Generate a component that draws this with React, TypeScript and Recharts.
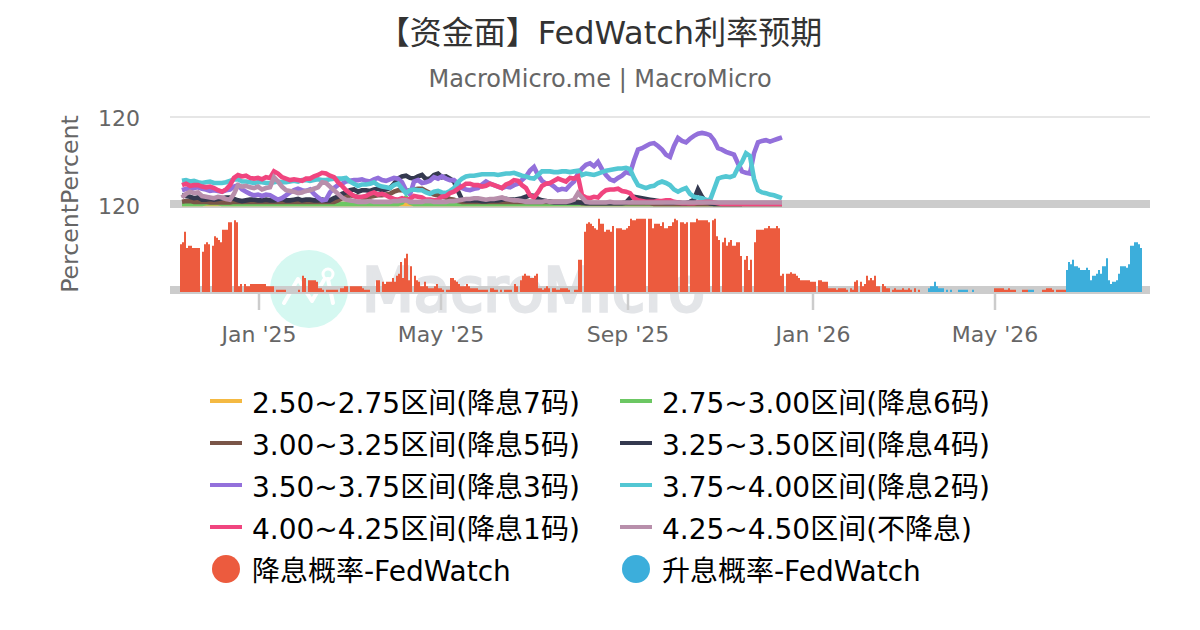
// App.tsx - FedWatch rate expectations, two stacked panels
import { LineChart, Line, BarChart, Bar, XAxis, YAxis, ReferenceLine } from 'recharts';

const FONT = '"DejaVu Sans", "Noto Sans CJK SC", sans-serif';
const TITLE = '【资金面】FedWatch利率预期';
const SUBTITLE = 'MacroMicro.me | MacroMicro';
const X_TICKS = [44.5, 135.5, 229, 321.5, 412.5];
const X_LABELS = ["Jan '25", "May '25", "Sep '25", "Jan '26", "May '26"];

// top panel, read every other slot, values in %
const LINE_START = 6;
const LINE_STEP = 2;
const s275 = new Array(151).fill(0);
const s300 = [
  0,0,0,0,0,0,1,1,1,1, 0,0,0,0,0,0,0,0,0,0, 0,0,0,0,0,0,0,0,0,0, 0,0,0,0,0,0,0,0,0,0,
  0,0,0,0,0,0,0,0,0,0, 0,0,0,0,0,2,9,2,0,0, 0,0,0,0,0,0,0,0,0,0, 0,0,0,0,0,0,0,0,0,0,
  0,0,0,0,0,0,0,0,0,0, 0,0,0,0,0,0,0,0,0,0, 0,0,0,0,0,0,0,0,0,0, 0,0,0,0,0,0,0,0,0,0,
  0,0,0,0,0,0,0,0,0,0, 0,0,0,0,0,0,0,0,0,0, 0,
];
const s325 = [
  3,4,4,3,3,3,3,2,2,2, 2,2,2,3,3,3,3,3,3,3, 3,3,3,3,3,3,3,3,3,3, 3,3,3,3,3,3,3,3,3,5,
  8,10,12,11,10,9,9,10,11,12, 12,13,14,17,19,19,18,19,20,21, 21,18,15,13,12,10,9,7,6,4, 3,3,3,3,3,3,3,3,3,3,
  3,3,3,3,3,3,3,3,3,3, 3,3,3,3,3,3,3,3,3,3, 1,1,1,1,1,1,1,1,1,1, 1,1,1,1,1,1,1,1,0,0,
  0,0,0,0,0,0,0,0,0,0, 0,0,0,0,0,0,0,0,0,0, 0,
];
const s350 = [
  12,11,10,8,9,6,6,7,6,7, 8,9,9,7,5,4,5,6,6,5, 5,6,5,5,6,7,5,5,6,7, 5,6,6,5,5,6,5,5,8,10,
  14,16,19,20,17,19,19,18,20,21, 19,20,22,28,35,38,39,36,35,38, 40,34,35,40,42,37,38,35,31,18, 6,5,5,5,5,4,4,5,5,5,
  6,7,6,6,7,8,10,12,11,7, 5,4,3,2,2,2,2,2,2,2, 2,1,1,1,1,1,1,1,1,1, 1,2,8,10,9,8,7,6,5,4,
  3,2,2,2,2,1,1,3,6,20, 10,3,1,0,0,0,0,0,0,0, 0,0,0,0,0,0,0,0,0,0, 0,
];
const s375 = [
  19,21,20,22,23,21,20,18,19,18, 17,19,20,24,26,20,17,14,12,13, 11,13,12,9,6,8,12,16,19,21, 19,18,20,14,9,5,6,16,22,26,
  28,31,32,33,33,34,32,31,34,36, 33,32,34,36,35,30,19,13,31,33, 29,30,32,37,35,38,35,33,33,28, 22,20,19,21,22,27,31,28,26,24,
  22,24,23,26,28,33,38,46,51,40, 32,28,28,24,19,21,20,26,31,42, 49,54,56,52,58,48,40,34,32,36, 39,44,42,60,75,77,80,83,84,80,
  75,68,65,80,91,87,85,90,94,97, 98,97,95,88,77,75,72,70,68,56, 45,43,42,70,85,87,88,86,88,90, 92,
];
const s400 = [
  32,33,31,32,30,29,30,31,29,29, 29,30,32,34,34,31,31,30,29,30, 30,29,29,30,31,30,30,31,32,31, 33,33,32,33,34,33,33,34,35,35,
  35,36,31,28,25,27,27,28,30,26, 24,23,22,26,28,21,15,19,20,19, 19,16,14,17,18,16,15,18,22,30, 35,38,39,39,40,41,41,41,41,40,
  41,42,42,43,41,39,38,36,35,40, 45,45,45,44,44,45,45,44,45,46, 40,42,41,40,42,44,46,47,48,49, 49,50,48,36,26,24,22,24,25,29,
  31,29,26,20,17,20,22,14,10,9, 8,6,5,20,35,37,38,37,39,50, 58,70,66,35,19,16,15,13,12,10, 8,
];
const s425 = [
  26,28,25,26,26,24,23,24,22,19, 17,20,26,36,40,38,39,36,35,36, 34,37,36,45,42,37,35,33,34,33, 32,35,35,38,40,43,42,39,37,30,
  25,19,15,11,9,10,11,14,16,13, 14,12,9,7,6,8,6,7,11,10, 9,6,6,5,6,10,11,15,17,21, 24,28,28,26,26,24,25,28,26,24,
  22,27,29,33,32,26,22,12,9,16, 25,28,29,32,35,33,31,36,35,38, 12,9,8,10,9,15,19,20,20,21, 18,17,15,8,5,4,3,3,3,4,
  4,5,5,3,2,1,1,1,1,2, 2,3,3,2,1,0,0,0,0,0, 0,0,0,0,0,0,0,0,0,0, 0,
];
const s450 = [
  9,14,17,15,16,11,10,9,8,10, 9,7,6,14,26,24,25,23,22,24, 20,22,23,37,31,24,19,18,17,15, 16,18,19,21,23,30,29,24,19,14,
  9,6,5,4,3,3,3,4,3,3, 3,3,3,4,4,5,5,3,3,3, 3,4,4,3,3,3,3,4,4,5, 6,7,7,8,8,7,6,7,7,8,
  9,7,6,5,5,4,3,3,3,3, 3,4,3,3,3,3,3,4,6,15, 9,3,2,2,2,2,2,3,2,2, 2,2,2,2,2,2,2,2,2,2,
  2,2,2,2,2,2,2,2,2,2, 2,2,2,2,2,2,2,2,2,2, 2,2,2,2,2,2,2,2,2,2, 2,
];

// bar panel, one value per slot, starting at the slot noted
const CUT_START = 5;
const cutProb = [
  65,68,82,60,63,63,60,60,60,60,0,55,65,68,65,0,63,76,74,71,68,85,85,85,95,95,0,98,95,8,11,0,
  11,8,8,11,11,11,11,11,11,11,11,8,8,8,8,0,3,3,3,3,3,0,0,0,0,0,0,3,0,22,19,0,16,16,16,16,14,5,5,3,0,
  3,3,3,3,3,3,0,5,5,8,8,0,8,8,8,8,8,8,5,3,3,3,0,0,0,16,16,0,14,11,14,14,14,19,14,22,25,41,19,46,52,16,35,0,
  22,16,14,8,8,14,8,5,5,5,8,11,5,5,3,0,3,3,19,19,16,14,11,8,8,8,11,8,5,5,5,5,3,3,3,3,3,0,
  5,5,3,3,0,3,0,3,3,3,3,0,11,8,0,16,22,25,22,22,19,19,22,25,5,5,3,5,8,5,0,
  5,5,3,3,5,5,5,5,3,0,0,3,3,44,44,0,
  82,93,95,93,90,87,85,100,93,93,82,85,85,82,90,0,87,87,87,85,85,87,90,100,98,98,100,100,100,100,100,0,
  100,100,87,93,93,93,90,95,87,87,90,90,95,100,98,0,95,95,93,95,0,95,95,95,100,98,98,98,98,98,95,0,
  98,100,76,71,0,68,74,63,68,71,63,63,68,68,49,0,44,49,30,44,0,68,85,85,85,85,87,87,90,87,87,87,90,87,22,25,0,
  25,25,27,25,25,22,19,16,16,16,16,16,14,14,14,0,16,16,14,14,14,5,5,5,5,3,5,5,5,5,3,0,5,3,14,16,0,
  14,8,11,22,16,19,16,22,8,8,0,11,8,5,5,0,3,5,3,3,3,5,3,3,5,3,0,5,0,3,
  0,0,0,0,0,0,0,0,0,0,0,0,0,0,0,0,0,0,0,0,0,0,0,0,0,0,0,0,0,0,0,0,0,0,0,0,0,
  5,5,5,5,5,3,3,5,3,3,3,0,0,0,3,3,3,0,0,0,0,0,0,0,3,3,5,5,5,3,0,3,3,3,3,3,
];
const HIKE_START = 379;
const hikeProb = [
  5,8,8,14,8,5,5,5,0,3,0,3,0,0,0,3,3,3,3,3,0,0,3,
  0,0,0,0,0,0,0,0,0,0,0,0,0,0,0,0,0,0,0,0,0,0,0,0,0,0,0,3,3,3,
  0,0,0,0,0,0,0,0,0,0,0,0,0,0,0,0,
  30,41,38,44,35,35,33,30,30,30,33,30,16,22,22,25,30,25,35,35,46,16,11,14,14,16,25,35,35,35,33,38,63,63,68,68,65,60,
];

const lineSeries = [
  { name: '2.50~2.75区间(降息7码)', color: '#F4B942', values: s275 },
  { name: '2.75~3.00区间(降息6码)', color: '#6CC763', values: s300 },
  { name: '3.00~3.25区间(降息5码)', color: '#7A5548', values: s325 },
  { name: '3.25~3.50区间(降息4码)', color: '#34394F', values: s350 },
  { name: '3.50~3.75区间(降息3码)', color: '#9370DB', values: s375 },
  { name: '3.75~4.00区间(降息2码)', color: '#53C7D3', values: s400 },
  { name: '4.00~4.25区间(降息1码)', color: '#F0457F', values: s425 },
  { name: '4.25~4.50区间(不降息)', color: '#B88FAB', values: s450 },
];
const barSeries = [
  { name: '降息概率-FedWatch', color: '#EC5B3E' },
  { name: '升息概率-FedWatch', color: '#3CAEDB' },
];

const lineData = s275.map((_, i) => {
  const row: any = { slot: LINE_START + i * LINE_STEP };
  lineSeries.forEach(s => { row[s.name] = s.values[i]; });
  return row;
});

const barData = Array.from({ length: 481 }, (_, i) => {
  const slot = i + 5;
  return {
    slot: slot + 0.5,
    cut: cutProb[slot - CUT_START] ?? 0,
    hike: hikeProb[slot - HIKE_START] ?? 0,
  };
});

const legendItems = [
  ...lineSeries.map(s => ({ ...s, round: false })),
  ...barSeries.map(s => ({ ...s, round: true })),
];

const Watermark = () => (
  <g>
    <circle cx={309} cy={289} r={39} fill="#D5F8F1" />
    <polyline points="284,303 298,279 312,301 324,280" fill="none" stroke="#fff" strokeWidth={4} strokeLinecap="round" strokeLinejoin="round" />
    <line x1={328} y1={279} x2={333} y2={303} stroke="#fff" strokeWidth={4} strokeLinecap="round" />
    <circle cx={328} cy={274} r={5} fill="none" stroke="#fff" strokeWidth={3} />
    <text x={362} y={311} fontSize={60} fontFamily={FONT} fill="#E3E5E8" stroke="#E3E5E8" strokeWidth={3}>MacroMicro</text>
  </g>
);

export default function App() {
  return (
    <div style={{ position: 'absolute', left: 0, top: 0, width: 1200, height: 630, fontFamily: FONT, background: '#fff', overflow: 'hidden' }}>
      <div style={{ position: 'absolute', top: 12, width: 1200, textAlign: 'center', fontSize: 32, lineHeight: '42px', color: '#333' }}>{TITLE}</div>
      <div style={{ position: 'absolute', top: 63, width: 1200, textAlign: 'center', fontSize: 24, lineHeight: '32px', color: '#666' }}>{SUBTITLE}</div>

      <div style={{ position: 'absolute', left: 70, top: 204, width: 0, height: 0 }}>
        <div style={{ position: 'absolute', transform: 'translate(-50%, -50%) rotate(-90deg)', whiteSpace: 'nowrap', fontSize: 23.6, color: '#666' }}>PercentPercent</div>
      </div>

      {/* band and watermark sit under the bars */}
      <div style={{ position: 'absolute', left: 0, top: 0 }}>
        <BarChart width={1200} height={350} data={barData} margin={{ top: 204, right: 50, left: 110, bottom: 0 }}>
          <XAxis
            dataKey="slot"
            type="number"
            domain={[0, 490]}
            ticks={X_TICKS}
            interval={0}
            height={58}
            axisLine={false}
            tickSize={18}
            tickMargin={16}
            tickLine={{ stroke: '#ccc', strokeWidth: 2.5 }}
            tick={{ fill: '#666', fontSize: 22, fontFamily: FONT }}
            tickFormatter={(v) => X_LABELS[X_TICKS.indexOf(v)]}
          />
          <YAxis
            width={60}
            domain={[0, 120]}
            ticks={[120]}
            tickSize={0}
            tickMargin={30}
            axisLine={false}
            tickLine={false}
            tick={{ fill: '#666', fontSize: 22, fontFamily: FONT, dy: 2 }}
          />
          <ReferenceLine y={2.7} stroke="#ccc" strokeWidth={8} />
          <ReferenceLine y={120} stroke="#ccc" strokeWidth={8} />
          <Watermark />
          <Bar dataKey="cut" fill="transparent" isAnimationActive={false} />
        </BarChart>
      </div>
      <div style={{ position: 'absolute', left: 0, top: 0 }}>
        <BarChart width={1200} height={350} data={barData} barCategoryGap={0} barGap={0} margin={{ top: 204, right: 50, left: 110, bottom: 0 }}>
          <XAxis dataKey="slot" type="number" domain={[0, 490]} height={58} tick={false} axisLine={false} tickLine={false} />
          <YAxis width={60} domain={[0, 120]} tick={false} axisLine={false} tickLine={false} />
          <Bar dataKey="cut" stackId="p" fill={barSeries[0].color} isAnimationActive={false} />
          <Bar dataKey="hike" stackId="p" fill={barSeries[1].color} isAnimationActive={false} />
        </BarChart>
      </div>

      <div style={{ position: 'absolute', left: 0, top: 0 }}>
        <LineChart width={1200} height={220} data={lineData} margin={{ top: 117, right: 50, left: 110, bottom: 16 }}>
          <XAxis dataKey="slot" type="number" domain={[0, 490]} hide />
          <YAxis
            width={60}
            domain={[0, 120]}
            ticks={[120]}
            tickSize={0}
            tickMargin={30}
            axisLine={false}
            tickLine={false}
            tick={{ fill: '#666', fontSize: 22, fontFamily: FONT, dy: 1 }}
          />
          <ReferenceLine y={120} stroke="#e6e6e6" strokeWidth={2} />
          {lineSeries.map(s => (
            <Line key={s.name} dataKey={s.name} stroke={s.color} strokeWidth={4.6} dot={false} isAnimationActive={false} />
          ))}
        </LineChart>
      </div>

      {/* legend, two columns */}
      {legendItems.map((item, i) => {
        const left = i % 2 === 0 ? 210 : 620;
        const top = 401 + Math.floor(i / 2) * 42;
        return (
          <div key={item.name} style={{ position: 'absolute', left, top: top - 20, height: 40, display: 'flex', alignItems: 'center', whiteSpace: 'nowrap', fontSize: 28, color: '#000' }}>
            {item.round
              ? <span style={{ width: 28, height: 28, margin: '0 12px 0 2px', borderRadius: '50%', background: item.color }} />
              : <span style={{ width: 32, height: 4, marginRight: 10, background: item.color }} />}
            {item.name}
          </div>
        );
      })}
    </div>
  );
}
